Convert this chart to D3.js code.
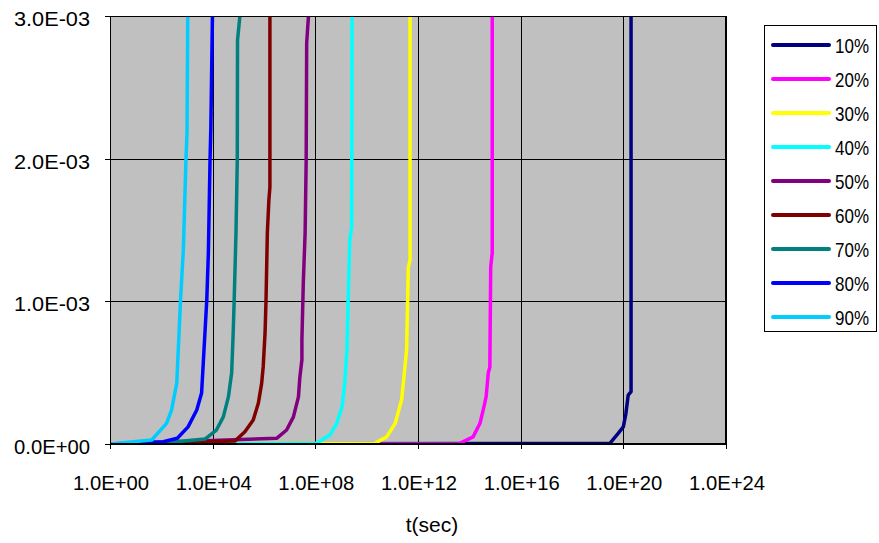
<!DOCTYPE html>
<html lang="en">
<head>
    <meta charset="UTF-8">
    <title>t(sec) chart</title>
    <script src="https://d3js.org/d3.v7.min.js"></script>
    <style>
        body { margin: 0; background: #fff; }
        text { font-family: "Liberation Sans", Arial, sans-serif; fill: #000; }
    </style>
</head>
<body>
    <svg width="879" height="543"></svg>

    <script>

        // Series names and colours (legend order)
        const seriesNames = ["10%", "20%", "30%", "40%", "50%", "60%", "70%", "80%", "90%"];
        const seriesColors = ["#000080", "#FF00FF", "#FFFF00", "#00FFFF", "#800080",
                              "#800000", "#008080", "#0000FF", "#00CCFF"];

        // t (sec) values for each series
        const t10 = [1, 3.0e19, 6.3e19, 1.0e20, 1.26e20, 1.55e20, 2.0e20, 2.0e20];
        const t20 = [1, 3.7e13, 1.4e14, 2.6e14, 3.7e14, 4.5e14, 5.5e14, 6.3e14, 6.8e14, 7.8e14, 7.8e14];
        const t30 = [1, 2.1e10, 6.0e10, 1.3e11, 2.3e11, 3.1e11, 3.6e11, 4.2e11, 4.9e11, 4.9e11];
        const t40 = [1, 1.1e8, 3.7e8, 6.8e8, 1.1e9, 1.4e9, 1.7e9, 1.9e9, 2.2e9, 2.6e9, 2.7e9];
        const t50 = [1, 3.1e6, 7.6e6, 1.4e7, 2.2e7, 2.5e7, 3.0e7, 3.0e7, 3.4e7, 4.0e7, 4.4e7, 4.6e7, 5.4e7];
        const t60 = [1, 7.4e4, 1.8e5, 3.8e5, 6.0e5, 8.1e5, 9.3e5, 1.1e6, 1.2e6, 1.35e6, 1.55e6, 1.7e6, 1.7e6];
        const t70 = [1, 1.1e2, 5.0e3, 1.4e4, 2.6e4, 4.1e4, 5.5e4, 6.3e4, 6.9e4, 8.1e4, 9.1e4, 9.3e4, 1.15e5];
        const t80 = [1, 1.2e2, 4.2e2, 1.1e3, 2.4e3, 3.7e3, 5.0e3, 5.9e3, 6.8e3, 7.9e3, 8.5e3, 9.8e3];
        const t90 = [1, 4.2e1, 1.6e2, 2.5e2, 4.0e2, 4.9e2, 5.6e2, 7.2e2, 9.1e2, 1.0e3, 1.07e3];

        // y values for each series
        const y10 = [0, 0.000005, 0.000075, 0.00012, 0.000215, 0.000343, 0.000367, 0.003];
        const y20 = [0, 0, 0.00005, 0.000145, 0.00026, 0.00033, 0.0005, 0.00054, 0.00124, 0.00134, 0.003];
        const y30 = [0, 0.000005, 0.00005, 0.000145, 0.00031, 0.00054, 0.00066, 0.00124, 0.00129, 0.003];
        const y40 = [0, 0.000005, 0.000063, 0.000145, 0.00026, 0.000425, 0.00066, 0.00101, 0.00143, 0.00152, 0.003];
        const y50 = [0, 0.00004, 0.000098, 0.00019, 0.00033, 0.00047, 0.00059, 0.00073, 0.00113, 0.00148, 0.00199, 0.00281, 0.003];
        const y60 = [0, 0.000021, 0.000086, 0.000168, 0.000285, 0.000425, 0.00054, 0.00078, 0.00101, 0.00148, 0.00171, 0.0018, 0.003];
        const y70 = [0, 0.000007, 0.000035, 0.000098, 0.00019, 0.00033, 0.0005, 0.00078, 0.00101, 0.00148, 0.00199, 0.00283, 0.003];
        const y80 = [0, 0.000016, 0.00004, 0.00012, 0.000238, 0.000357, 0.000778, 0.00101, 0.00134, 0.00199, 0.00222, 0.003];
        const y90 = [0, 0.000028, 0.000145, 0.000238, 0.000428, 0.000778, 0.00101, 0.00136, 0.00199, 0.00218, 0.003];

        const xTicks = [1e0, 1e4, 1e8, 1e12, 1e16, 1e20, 1e24];
        const xTickLabels = ["1.0E+00", "1.0E+04", "1.0E+08", "1.0E+12", "1.0E+16", "1.0E+20", "1.0E+24"];
        const yTicks = [0, 0.001, 0.002, 0.003];
        const yTickLabels = ["0.0E+00", "1.0E-03", "2.0E-03", "3.0E-03"];

        const tArrays = [t10, t20, t30, t40, t50, t60, t70, t80, t90];
        const yArrays = [y10, y20, y30, y40, y50, y60, y70, y80, y90];

        const series = seriesNames.map((name, i) => ({
            name: name,
            color: seriesColors[i],
            values: tArrays[i].map((t, j) => ({ t: t, y: yArrays[i][j] }))
        }));

        // Plot area
        const margin = { top: 16, right: 153, bottom: 99, left: 110 },
              width = 879 - margin.left - margin.right,
              height = 543 - margin.top - margin.bottom;

        const svg = d3.select("svg");
        const g = svg.append("g")
                     .attr("transform", `translate(${margin.left},${margin.top})`);

        const xScale = d3.scaleLog()
                         .domain([1e0, 1e24])
                         .range([0, width]);

        const yScale = d3.scaleLinear()
                         .domain([0, 0.003])
                         .range([height, 0]);

        // Background
        g.append("rect")
         .attr("width", width)
         .attr("height", height)
         .attr("fill", "#C0C0C0");

        // Gridlines
        g.append("g")
         .selectAll("line.vgrid")
         .data(xTicks)
         .enter()
         .append("line")
         .attr("x1", d => Math.round(xScale(d)) + 0.5)
         .attr("x2", d => Math.round(xScale(d)) + 0.5)
         .attr("y1", 0)
         .attr("y2", height)
         .attr("stroke", "#000")
         .attr("stroke-width", 1);

        g.append("g")
         .selectAll("line.hgrid")
         .data(yTicks)
         .enter()
         .append("line")
         .attr("x1", 0)
         .attr("x2", width)
         .attr("y1", d => Math.round(yScale(d)) + 0.5)
         .attr("y2", d => Math.round(yScale(d)) + 0.5)
         .attr("stroke", "#000")
         .attr("stroke-width", 1);

        // Clip for the lines
        svg.append("defs").append("clipPath")
           .attr("id", "plotClip")
           .append("rect")
           .attr("width", width)
           .attr("height", height);

        const line = d3.line()
                       .x(d => xScale(d.t))
                       .y(d => yScale(d.y));

        g.append("g")
         .attr("clip-path", "url(#plotClip)")
         .selectAll("path")
         .data(series)
         .enter()
         .append("path")
         .attr("fill", "none")
         .attr("stroke", d => d.color)
         .attr("stroke-width", 3.5)
         .attr("stroke-linejoin", "round")
         .attr("d", d => line(d.values));

        // Plot border
        g.append("rect")
         .attr("x", 0.5)
         .attr("y", 0.5)
         .attr("width", width - 1)
         .attr("height", height - 1)
         .attr("fill", "none")
         .attr("stroke", "#000");

        // Tick marks
        g.append("g")
         .selectAll("line")
         .data(yTicks)
         .enter()
         .append("line")
         .attr("x1", -5)
         .attr("x2", 0)
         .attr("y1", d => Math.round(yScale(d)) + 0.5)
         .attr("y2", d => Math.round(yScale(d)) + 0.5)
         .attr("stroke", "#000");

        g.append("g")
         .selectAll("line")
         .data(xTicks)
         .enter()
         .append("line")
         .attr("x1", d => Math.round(xScale(d)) + 0.5)
         .attr("x2", d => Math.round(xScale(d)) + 0.5)
         .attr("y1", height)
         .attr("y2", height + 5)
         .attr("stroke", "#000");

        // Axis labels
        g.append("g")
         .selectAll("text")
         .data(yTicks)
         .enter()
         .append("text")
         .attr("x", -20)
         .attr("y", d => yScale(d) + 10)
         .attr("text-anchor", "end")
         .attr("textLength", 76)
         .attr("lengthAdjust", "spacingAndGlyphs")
         .style("font-size", "21px")
         .text((d, i) => yTickLabels[i]);

        g.append("g")
         .selectAll("text")
         .data(xTicks)
         .enter()
         .append("text")
         .attr("x", d => xScale(d) + 1)
         .attr("y", height + 46)
         .attr("text-anchor", "middle")
         .attr("textLength", 76)
         .attr("lengthAdjust", "spacingAndGlyphs")
         .style("font-size", "21px")
         .text((d, i) => xTickLabels[i]);

        svg.append("text")
           .attr("x", 432)
           .attr("y", 532)
           .attr("text-anchor", "middle")
           .style("font-size", "21px")
           .text("t(sec)");

        // Legend
        const legend = svg.append("g").attr("transform", "translate(764,25)");

        legend.append("rect")
              .attr("x", 0.5)
              .attr("y", 0.5)
              .attr("width", 112)
              .attr("height", 306)
              .attr("fill", "#fff")
              .attr("stroke", "#000");

        const items = legend.selectAll("g.item")
                            .data(series)
                            .enter()
                            .append("g")
                            .attr("transform", (d, i) => `translate(0,${20 + i * 34})`);

        items.append("line")
             .attr("x1", 9)
             .attr("x2", 65)
             .attr("stroke", d => d.color)
             .attr("stroke-width", 4)
             .attr("stroke-linecap", "round");

        items.append("text")
             .attr("x", 71)
             .attr("y", 8)
             .attr("textLength", 34)
             .attr("lengthAdjust", "spacingAndGlyphs")
             .style("font-size", "21px")
             .text(d => d.name);

    </script>
</body>
</html>
